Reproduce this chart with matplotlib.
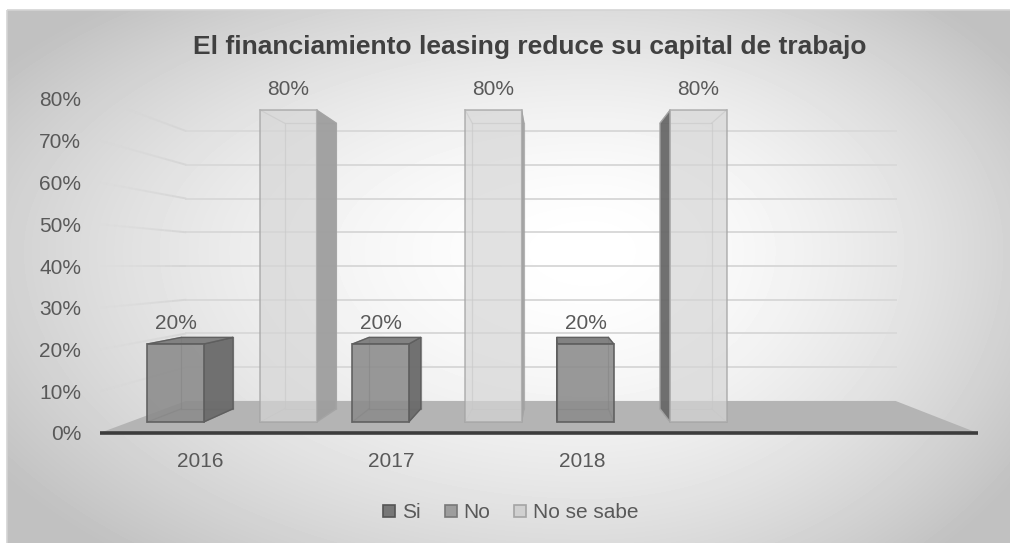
import numpy as np
import matplotlib.pyplot as plt
from matplotlib.patches import Polygon, Rectangle
from matplotlib.lines import Line2D
from matplotlib.collections import LineCollection
from matplotlib.transforms import Affine2D

years = ["2016", "2017", "2018"]
series = ["Si", "No", "No se sabe"]
si = [0.20, 0.20, 0.20]
no = [0.0, 0.0, 0.0]
no_se_sabe = [0.80, 0.80, 0.80]
y_ticks = [0.0, 0.1, 0.2, 0.3, 0.4, 0.5, 0.6, 0.7, 0.8]
title = "El financiamiento leasing reduce su capital de trabajo"

values = [si, no, no_se_sabe]
face = ["#8b8b8b", "#a3a3a3", "#d6d6d6"]
face_alpha = [0.88, 0.88, 0.7]
side_r = ["#6a6a6a", "#7d7d7d", "#9e9e9e"]
side_l = ["#5c5c5c", "#707070", "#686868"]
top_c = ["#7c7c7c", "#8f8f8f", "#c8c8c8"]
edge = ["#5e5e5e", "#7a7a7a", "#a4a4a4"]
leg_face = ["#777777", "#9d9d9d", "#d0d0d0"]
leg_edge = ["#555555", "#787878", "#a4a4a4"]

W, H = 1010, 543
txt = "#595959"
plt.rcParams["font.family"] = ["Liberation Sans", "DejaVu Sans"]
fig = plt.figure(figsize=(W / 100, H / 100), dpi=100)

# background: radial grey gradient inside the chart area
bg = fig.add_axes([0, 0, 1, 1])
bg.set_xlim(0, W)
bg.set_ylim(H, 0)
bg.set_axis_off()
yy, xx = np.mgrid[10:H, 7:W].astype(float)
dx = xx - 590
dy = yy - 250
dx = np.where(dx < 0, dx / 590, dx / 430)
dy = np.where(dy < 0, dy / 280, dy / 340)
r = np.clip(np.hypot(dx, dy), 0, 1.2)
img = 1 - 0.18 * r ** 1.7
bg.imshow(img, cmap="gray", vmin=0, vmax=1, extent=(7, W, H, 10), aspect="auto", zorder=0)
bg.add_patch(Rectangle((7, 10), W, H, fill=False, ec="#d4d4d4", lw=1.2, zorder=1))

# front plane of the 3d box, perspective towards the centre C
ax = fig.add_axes([99.75 / W, (H - 433) / H, 878 / W, 334 / H])
ax.set_xlim(-0.5, 3.5)
ax.set_ylim(0, 0.8)
ax.set_autoscale_on(False)
ax.patch.set_visible(False)
for sp in ax.spines.values():
    sp.set_visible(False)
ax.set_xticks([])
ax.set_yticks(y_ticks, [f"{v:.0%}" for v in y_ticks])
ax.tick_params(axis="y", length=0, pad=13.5, labelsize=15, labelcolor=txt)

CX, CY = 1.55, 0.4
S_WALL, S_FRONT, S_BACK = 0.808, 0.934, 0.855
BW = 0.275


def plane(s):
    return Affine2D().translate(-CX, -CY).scale(s).translate(CX, CY) + ax.transData


def proj(x, y, s):
    return (CX + s * (x - CX), CY + s * (y - CY))


# gridlines on back wall and fading ones on the left wall
for v in y_ticks[1:]:
    ax.plot([-0.5, 3.5], [v, v], transform=plane(S_WALL), color="#d9d9d9", lw=1.4, zorder=1)
    ss = np.linspace(1.0, S_WALL, 13)
    pts = [proj(-0.5, v, s) for s in ss]
    segs = [[pts[k], pts[k + 1]] for k in range(12)]
    cols = [(0.84, 0.84, 0.84, a) for a in np.linspace(0.05, 1, 12)]
    ax.add_collection(LineCollection(segs, colors=cols, lw=1.4, zorder=1))

# floor
floor = [proj(-0.5, 0, 1), proj(3.5, 0, 1), proj(3.5, 0, S_WALL), proj(-0.5, 0, S_WALL)]
ax.add_patch(Polygon(floor, closed=True, fc="#b4b4b4", ec="none", zorder=2, clip_on=False))
ax.plot([-0.5, 3.5], [0, 0], color="#3c3c3c", lw=2.6, zorder=3, clip_on=False, solid_capstyle="butt")

# bars
for j, vals in enumerate(values):
    xs = [i + (j - 1) * BW for i in range(len(years))]
    for x, v in zip(xs, vals):
        if v <= 0:
            continue
        x0, x1 = x - BW / 2, x + BW / 2
        # hidden edges, seen through the translucent faces
        back = [proj(x0, 0, S_BACK), proj(x1, 0, S_BACK), proj(x1, v, S_BACK),
                proj(x0, v, S_BACK), proj(x0, 0, S_BACK)]
        ax.plot(*zip(*back), color=edge[j], lw=0.9, alpha=0.6, zorder=4, clip_on=False)
        for xe in (x0, x1):
            for ye in (0, v):
                ax.plot(*zip(proj(xe, ye, S_FRONT), proj(xe, ye, S_BACK)),
                        color=edge[j], lw=0.9, alpha=0.6, zorder=4, clip_on=False)
        if x < CX:
            xe, sc = x1, side_r[j]
        else:
            xe, sc = x0, side_l[j]
        side = [proj(xe, 0, S_FRONT), proj(xe, 0, S_BACK), proj(xe, v, S_BACK), proj(xe, v, S_FRONT)]
        ax.add_patch(Polygon(side, closed=True, fc=sc, ec=edge[j], lw=1.0, alpha=0.95,
                             zorder=5, clip_on=False))
        if v < CY:
            top = [proj(x0, v, S_FRONT), proj(x1, v, S_FRONT), proj(x1, v, S_BACK), proj(x0, v, S_BACK)]
            ax.add_patch(Polygon(top, closed=True, fc=top_c[j], ec=edge[j], lw=1.0, alpha=0.95,
                                 zorder=5, clip_on=False))
        ax.annotate(f"{v:.0%}", xy=proj(x, v, S_FRONT), xytext=(0, 8), textcoords="offset points",
                    ha="center", va="bottom", fontsize=15, color=txt, zorder=8)
    ax.bar(xs, vals, BW, transform=plane(S_FRONT), color=face[j], edgecolor=edge[j],
           linewidth=[1.3 if v > 0 else 0 for v in vals], alpha=face_alpha[j], zorder=6, clip_on=False)

# category labels
axl = fig.add_axes([104.5 / W, (H - 433) / H, 764 / W, 0.001])
axl.set_xlim(-0.5, 3.5)
axl.set_xticks(range(len(years)), years)
axl.set_yticks([])
axl.patch.set_visible(False)
for sp in axl.spines.values():
    sp.set_visible(False)
axl.tick_params(axis="x", length=0, pad=14, labelsize=15, labelcolor=txt)

fig.text(529.5 / W, 1 - 47 / H, title, ha="center", va="center", fontsize=19,
         fontweight="bold", color="#404040")

handles = [Line2D([], [], marker="s", ls="none", markersize=8, markerfacecolor=leg_face[k],
                  markeredgecolor=leg_edge[k], markeredgewidth=1.2) for k in range(len(series))]
fig.legend(handles, series, loc="center", bbox_to_anchor=(509 / W, 1 - 513 / H), ncol=3,
           frameon=False, handletextpad=0.15, columnspacing=1.0, handlelength=0.9,
           fontsize=15, labelcolor=txt)

fig.savefig("out.png", dpi=100)
